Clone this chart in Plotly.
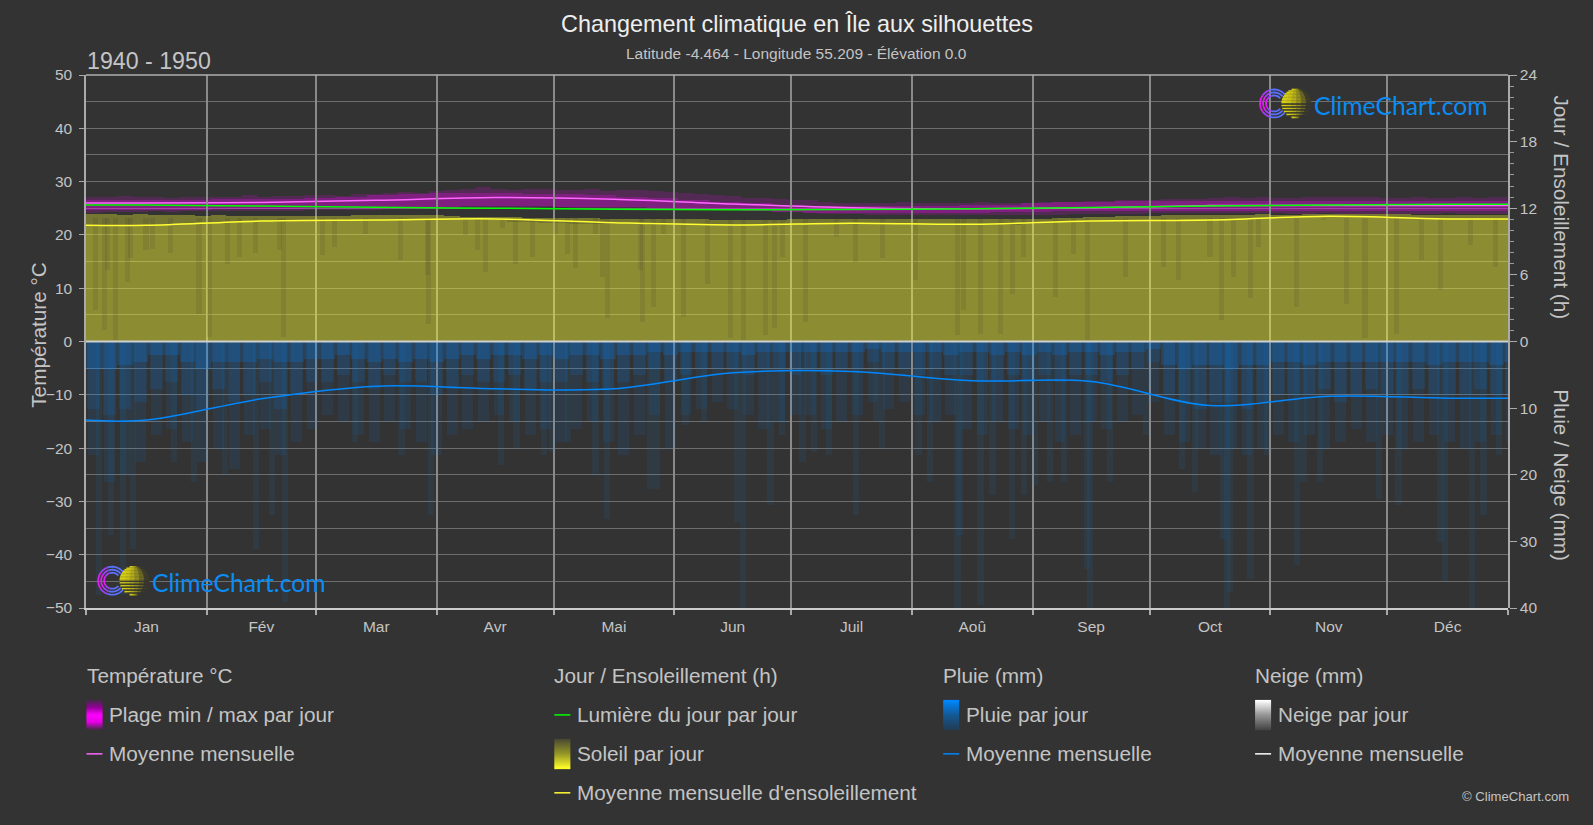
import math

import numpy as np
import plotly.graph_objects as go

################################################################################
# data
month_names = ['Jan', 'Fév', 'Mar', 'Avr', 'Mai', 'Jun', 'Juil', 'Aoû', 'Sep', 'Oct', 'Nov', 'Déc']
month_starts = [0, 31, 59, 90, 120, 151, 181, 212, 243, 273, 304, 334, 365]
month_mids = [15.5, 45, 74.5, 105, 135.5, 166, 196.5, 227.5, 258, 288.5, 319, 349.5]

# monthly means (lines)
temp_mean = [26.0, 26.1, 26.5, 27.0, 26.7, 25.8, 25.1, 24.9, 25.1, 25.5, 25.5, 25.5]
daylight_h = [12.29, 12.2, 12.1, 12.0, 11.92, 11.87, 11.88, 11.96, 12.07, 12.2, 12.3, 12.35]
sun_mean_h = [10.46, 10.85, 10.94, 11.04, 10.7, 10.5, 10.66, 10.56, 10.85, 10.94, 11.28, 11.04]
rain_mean_mm = [11.8, 8.6, 6.7, 7.1, 7.1, 4.7, 4.5, 5.9, 6.0, 9.6, 8.2, 8.5]

# 4 day bins
temp_max = [27.2, 27.1, 27.3, 27.1, 27.2, 27.0, 27.1, 27.2,
            27.1, 27.2, 27.4, 27.2, 27.3, 27.3, 27.4,
            27.5, 27.3, 27.6, 27.6, 27.9, 28.1, 27.9, 28.2,
            28.4, 28.6, 28.9, 28.6, 28.4, 28.7, 28.6,
            28.5, 28.4, 28.6, 28.3, 28.4, 28.4, 28.2, 28.1,
            27.8, 27.6, 27.5, 27.3, 27.0, 26.9, 26.8, 26.6,
            26.5, 26.2, 26.0, 26.0, 25.9, 26.0, 26.1, 26.0,
            26.0, 26.0, 26.0, 26.1, 26.0, 26.0, 26.0, 26.1,
            26.1, 26.2, 26.3, 26.4, 26.5, 26.5, 26.6,
            26.7, 26.8, 26.8, 27.0, 27.1, 27.0, 27.1, 27.0,
            27.0, 27.2, 27.1, 27.1, 27.2, 27.1, 27.0,
            27.0, 27.1, 27.0, 27.0, 27.1, 27.0, 27.1, 27.2]
temp_min = [24.2, 24.3, 24.3, 24.3, 24.4, 24.3, 24.4, 24.4,
            24.4, 24.4, 24.4, 24.5, 24.5, 24.5, 24.6,
            24.6, 24.7, 24.7, 24.7, 24.8, 24.8, 24.8, 24.9,
            24.9, 25.0, 25.0, 25.1, 25.1, 25.1, 25.2,
            25.2, 25.1, 25.1, 25.1, 25.0, 25.0, 24.9, 24.9,
            24.9, 24.8, 24.7, 24.6, 24.5, 24.4, 24.3, 24.3,
            24.1, 24.0, 23.9, 23.9, 23.8, 23.8, 23.8, 23.8,
            23.8, 23.7, 23.8, 23.8, 23.7, 23.8, 23.8, 23.8,
            23.8, 23.9, 23.9, 24.0, 24.0, 24.0, 24.1,
            24.1, 24.1, 24.2, 24.2, 24.2, 24.1, 24.1, 24.1,
            24.0, 24.0, 24.1, 24.0, 24.0, 24.0, 24.0,
            24.0, 24.0, 24.0, 24.1, 24.0, 24.0, 24.0, 24.0]
sun_max_h = [11.5, 11.5, 11.4, 11.5, 11.4, 11.4, 11.4, 11.3,
             11.4, 11.3, 11.3, 11.3, 11.3, 11.3, 11.3,
             11.3, 11.3, 11.4, 11.4, 11.4, 11.4, 11.4, 11.4,
             11.3, 11.2, 11.2, 11.2, 11.2, 11.1, 11.1,
             11.1, 11.1, 11.1, 11.0, 11.0, 11.0, 11.0, 11.0,
             11.0, 11.0, 10.9, 10.9, 10.9, 10.9, 10.9, 11.0,
             11.0, 11.0, 11.0, 11.0, 11.0, 11.0, 11.0, 11.0,
             11.0, 11.0, 11.0, 11.0, 11.0, 11.0, 11.0, 11.0,
             11.1, 11.1, 11.2, 11.2, 11.3, 11.3, 11.3,
             11.4, 11.4, 11.4, 11.4, 11.4, 11.4, 11.5, 11.4,
             11.4, 11.5, 11.5, 11.5, 11.5, 11.5, 11.5,
             11.5, 11.4, 11.4, 11.4, 11.4, 11.4, 11.4, 11.4]
sun_typ_h = [10.5, 10.5, 10.4, 10.5, 10.5, 10.6, 10.7, 10.8,
             10.8, 10.8, 10.9, 10.9, 10.8, 10.9, 10.9,
             10.9, 10.9, 11.0, 10.9, 10.9, 11.0, 11.0, 11.0,
             11.0, 11.0, 11.0, 10.9, 10.8, 10.8, 10.7,
             10.7, 10.6, 10.6, 10.6, 10.6, 10.6, 10.5, 10.5,
             10.5, 10.5, 10.5, 10.5, 10.5, 10.5, 10.5, 10.6,
             10.6, 10.6, 10.6, 10.6, 10.6, 10.6, 10.6, 10.6,
             10.6, 10.5, 10.5, 10.5, 10.5, 10.5, 10.6, 10.7,
             10.8, 10.8, 10.8, 10.9, 10.9, 10.9, 10.9,
             10.9, 11.0, 11.0, 11.0, 11.0, 11.0, 11.1, 11.1,
             11.2, 11.2, 11.3, 11.3, 11.3, 11.2, 11.1,
             11.1, 11.0, 11.0, 11.0, 11.0, 11.0, 11.0, 11.0]
rain_low_mm = [17, 21, 20, 18, 14, 13, 15, 18,
               16, 19, 14, 13, 17, 15, 13,
               11, 12, 14, 15, 12, 13, 15, 17,
               14, 13, 12, 11, 12, 14, 13,
               15, 13, 12, 15, 17, 14, 11, 16,
               11, 10, 9, 10, 11, 13, 12, 11,
               11, 13, 12, 11, 9, 10, 9, 11,
               12, 11, 13, 14, 12, 13, 14, 12,
               15, 14, 12, 13, 12, 11, 9,
               14, 15, 16, 17, 16, 17, 16, 14,
               15, 14, 16, 15, 13, 15, 14,
               16, 15, 14, 15, 16, 15, 14, 15]
rain_mid_mm = [10, 11, 10, 9, 7, 6, 8, 10,
               7, 9, 8, 6, 10, 8, 6,
               6, 5, 6, 7, 5, 6, 6, 8,
               7, 5, 6, 6, 5, 7, 6,
               6, 5, 6, 7, 6, 5, 4, 6,
               5, 4, 4, 4, 5, 4, 4, 5,
               4, 5, 4, 4, 3, 4, 4, 5,
               4, 5, 5, 6, 6, 5, 6, 5,
               6, 5, 5, 6, 5, 4, 3,
               8, 9, 10, 9, 9, 10, 9, 8,
               8, 8, 7, 9, 8, 7, 8,
               8, 7, 8, 8, 8, 7, 8, 8]
rain_top_mm = [4, 4, 3.5, 3, 2, 2, 3, 4,
               3, 3, 3, 2.5, 3, 3, 2.5,
               2.5, 2, 2.5, 3, 2.5, 3, 2.5, 3,
               2.5, 2, 2.5, 2, 2, 2.5, 2,
               2.5, 2, 2, 2.5, 2, 2, 1.5, 2,
               1.5, 1.5, 1.5, 1.5, 2, 1.5, 1.5, 1.5,
               1.5, 1.5, 1.5, 1.5, 1, 1.5, 1.5, 1.5,
               1.5, 2, 1.5, 1.5, 2, 1.5, 2, 1.5,
               2, 1.5, 1.5, 2, 1.5, 1.5, 1,
               3.5, 4, 3.5, 3.5, 4, 3.5, 3.5, 3,
               3, 3.5, 3, 3, 3, 3, 3,
               3, 3, 3.5, 3, 3, 3, 3.5, 3]

# 8 day bins, brighter core of the temperature band
temp_core_high = [26.6, 26.6, 26.6, 26.6, 26.7, 26.8, 26.8, 27.0, 27.2, 27.4, 27.6,
                  27.8, 27.8, 27.8, 27.7, 27.6, 27.5, 27.2, 26.9, 26.5, 26.2, 25.9, 25.6,
                  25.5, 25.4, 25.4, 25.4, 25.5, 25.6, 25.7, 25.9, 26.1, 26.2, 26.3,
                  26.4, 26.4, 26.4, 26.4, 26.3, 26.3, 26.3, 26.3, 26.3, 26.3, 26.3, 26.3]
temp_core_low = [24.6, 24.6, 24.7, 24.7, 24.8, 24.8, 24.9, 25.0, 25.0, 25.1, 25.2,
                 25.3, 25.4, 25.4, 25.4, 25.3, 25.3, 25.2, 25.0, 24.8, 24.6, 24.4, 24.3,
                 24.2, 24.2, 24.1, 24.1, 24.2, 24.2, 24.3, 24.3, 24.4, 24.5, 24.5,
                 24.5, 24.4, 24.4, 24.4, 24.4, 24.4, 24.4, 24.4, 24.4, 24.4, 24.4, 24.4]

# single wet days that reach far down
rain_peak_day = [3.4, 6.4, 9.4, 12, 22.6, 27.7, 35.7, 43.6, 47.8, 51, 69, 81, 88.5,
                 106.6, 110.5, 117.5, 119.7, 123.7, 130.8, 133.8, 144.9, 146.6, 153.9,
                 158.6, 167, 168.7, 175.7, 178.7, 183.9, 186.8, 190.7, 197.7, 202.7,
                 204.3, 213.7, 216.7, 223.7, 224.4, 229.6, 232.7, 237.7, 240.7, 243.5,
                 247.5, 251, 257, 257.8, 262.8, 272, 281.3, 284.7, 292, 292.9, 293.7,
                 298.9, 303.1, 310.8, 312.5, 316.8, 331.8, 336.9, 347.6, 348.9, 355.7,
                 358.7, 362.6]
rain_peak_mm = [38, 29, 38, 31, 18, 21, 20, 31, 26, 39, 15, 17, 26,
                18.5, 16, 17, 16.5, 15, 20, 26.5, 22, 22, 12.5,
                12, 27, 40, 24.5, 14, 18, 16.5, 17, 26, 12,
                16, 17, 21, 40, 29, 39.5, 23, 29.5, 23, 21.5,
                21, 21, 34, 40, 21, 14, 19, 22.5, 29.5, 40, 37.5,
                35.5, 17, 33.5, 21, 21, 23.5, 24.5, 30, 36, 40,
                26, 17]

# cloudy days, sun only reached this many hours
sun_dip_day = [2.5, 4.7, 5.5, 7.5, 10.6, 11.5, 15.4, 17, 21.8, 29, 31.6, 36.3, 39.5, 43.6,
               49.6, 50.8, 60.7, 63.7, 71.8, 80.8, 87.6, 88, 97.5,
               100.6, 102.5, 106.8, 110.2, 114.5, 120.5, 123.7, 125.6, 130.8, 132.5,
               133.8, 142.3, 142.8, 145.7, 148.3, 153.4, 159.6, 165.4, 168.8, 174.4,
               176.7, 178.7, 184.7, 192.6, 197.5, 204.4, 212.9, 223.6, 225.3, 229.6,
               234.7, 237.7, 240.7, 248.8, 253.5, 257, 266.8, 276.6, 280.5,
               288.5, 291.5, 294.5, 298.8, 301, 310.6, 317.6, 323.6, 328.3, 336.4,
               342.8, 347.6, 355.3, 361.7]
sun_dip_h = [2.8, 1, 6.4, 0.1, 5.4, 7.5, 8.2, 8.3, 8, 2.5, 0.4, 7, 7.6, 8,
             8.2, 0.4, 7.8, 8.5, 9.7, 7.3, 6, 1.6, 9.6,
             8.2, 6.3, 10.2, 7, 7.6, 9.7, 7.9, 6.6, 9.7, 5.8,
             2.1, 6.4, 1.8, 3.1, 9.7, 2.2, 5.2, 0.3, 0.1, 0.6,
             1.2, 7.6, 1.8, 9.4, 7.2, 7.5, 5.5, 0.6, 2.8, 0.7,
             0.7, 4.3, 7.6, 4, 7.9, 0.1, 5.8, 6.7, 5.5,
             7.6, 1.9, 5.8, 3.9, 8.5, 3.1, 10.9, 3.4, 0.3, 0.7,
             7.3, 4.6, 8.7, 6.7]

################################################################################
# pixel layout
W, H = 1593, 825
L, R, T, B = 85.5, 1508, 74.5, 608
BG = '#333333'
TEXT = '#c4c4c4'
FONT = 'Liberation Sans'


def px(x):
    return (x - L) / (R - L)


def py(y):
    return 1 - (y - T) / (B - T)


shapes = []
annotations = []


def label(x, y, text, size=20.75, color=TEXT, anchor='left', angle=0, family=FONT):
    annotations.append(dict(x=px(x), y=py(y), xref='paper', yref='paper', text=text,
                            showarrow=False, xanchor=anchor, yanchor='middle',
                            textangle=angle, font=dict(size=size, color=color, family=family)))


def rect(x0, y0, x1, y1, color):
    shapes.append(dict(type='rect', xref='paper', yref='paper', x0=px(x0), x1=px(x1),
                       y0=py(y0), y1=py(y1), fillcolor=color, line_width=0, layer='above'))


def hline(x0, x1, y, color, width=1.5):
    shapes.append(dict(type='line', xref='paper', yref='paper', x0=px(x0), x1=px(x1),
                       y0=py(y), y1=py(y), line=dict(color=color, width=width), layer='above'))


def mix(c0, c1, t):
    c = [round(a + (b - a) * t) for a, b in zip(c0, c1)]
    return 'rgb(%d,%d,%d)' % tuple(c)


def swatch(x, y0, y1, stops):
    # stack of thin rects, shapes have no gradient fill
    n = int(y1 - y0)
    for i in range(n):
        t = i / (n - 1) * (len(stops) - 1)
        k = min(int(t), len(stops) - 2)
        rect(x, y0 + i, x + 16, y0 + i + 1.3, mix(stops[k], stops[k + 1], t - k))


def arc(cx, cy, r, a0, a1, color):
    pts = []
    for a in np.linspace(a0, a1, 16):
        pts.append((px(cx + r * math.cos(a)), py(cy + r * math.sin(a))))
    path = 'M ' + ' L '.join('%.5f,%.5f' % p for p in pts)
    shapes.append(dict(type='path', xref='paper', yref='paper', path=path,
                       line=dict(color=color, width=1.8), layer='above'))


def logo(cx, cy):
    # rings
    for r in (14, 11, 8):
        arc(cx, cy, r, math.radians(40), math.radians(110), '#5a70ff')
        arc(cx, cy, r, math.radians(110), math.radians(145), '#a040f8')
        arc(cx, cy, r, math.radians(145), math.radians(215), '#e020f0')
        arc(cx, cy, r, math.radians(215), math.radians(250), '#a040f8')
        arc(cx, cy, r, math.radians(250), math.radians(320), '#5a70ff')
    # sun, made of stripes that fade to the right
    sx = cx + 22
    r = 14.7
    dark = (62, 60, 42)
    yellow = (214, 206, 20)
    for i in range(20):
        dy = -r + (i + 0.5) * 1.47
        half = math.sqrt(max(r * r - dy * dy, 0))
        faded = i > 9 and i % 2 == 0
        for k in range(6):
            a = sx - half + 2 * half * k / 6
            b = sx - half + 2 * half * (k + 1) / 6
            c = mix(yellow, dark, (k / 5) ** 1.6)
            if faded:
                c = mix((70, 68, 40), (51, 51, 51), k / 5)
            rect(a, cy + dy - 0.8, b + 0.6, cy + dy + 0.8, c)
    label(cx + 38, cy + 2, 'ClimeChart.com', size=24.7, color='#0a8cf5', family='Lato')


################################################################################
# traces
bin4 = [d + 2 for d in range(0, 368, 4)]
bin8 = [d + 4 for d in range(0, 368, 8)]
line_x = [0] + month_mids + [365]


def pad(vals):
    return [vals[0]] + vals + [vals[-1]]


fig = go.Figure()


def bars(x, y, color, width, yaxis, base=None):
    fig.add_trace(go.Bar(x=x, y=y, base=base, width=width, yaxis=yaxis,
                         marker=dict(color=color, line_width=0), hoverinfo='skip'))


def mean_line(y, color, yaxis, width=1.5):
    fig.add_trace(go.Scatter(x=line_x, y=pad(y), mode='lines', yaxis=yaxis,
                             line=dict(color=color, width=width, shape='spline', smoothing=1),
                             hoverinfo='skip'))


# temperature band
bars(bin4, [a - b for a, b in zip(temp_max, temp_min)], 'rgba(255,0,255,0.16)', 4, 'y', base=temp_min)
bars(bin8, [a - b for a, b in zip(temp_core_high, temp_core_low)], 'rgba(255,0,255,0.26)', 8, 'y', base=temp_core_low)
mean_line(temp_mean, '#ff66ff', 'y')

# sun
bars(bin4, sun_max_h, 'rgba(255,255,51,0.33)', 4, 'y2')
bars(bin4, sun_typ_h, 'rgba(255,255,51,0.16)', 4, 'y2')
bars(sun_dip_day, [11.1 - h for h in sun_dip_h], 'rgba(51,51,51,0.12)', 1.3, 'y2', base=sun_dip_h)
mean_line(daylight_h, '#00ff00', 'y2')
mean_line(sun_mean_h, '#ffff33', 'y2')

# rain
bars(bin4, rain_low_mm, 'rgba(0,136,255,0.09)', 2.8, 'y3')
bars(bin4, rain_mid_mm, 'rgba(0,136,255,0.12)', 3.3, 'y3')
bars(bin4, rain_top_mm, 'rgba(0,136,255,0.2)', 4, 'y3')
bars(rain_peak_day, rain_peak_mm, 'rgba(0,136,255,0.08)', 1.6, 'y3')
mean_line(rain_mean_mm, '#0088ff', 'y3')

################################################################################
# text and legend
label(W / 2, 23, 'Changement climatique en Île aux silhouettes', size=23.4, color='#eeeeee', anchor='center')
label(W / 2, 53, 'Latitude -4.464 - Longitude 55.209 - Élévation 0.0', size=15.5, anchor='center')
label(84, 60, '1940 - 1950', size=23.2)
label(38, 335, 'Température °C', anchor='center', angle=-90)
label(1562, 207, 'Jour / Ensoleillement (h)', anchor='center', angle=90)
label(1562, 475, 'Pluie / Neige (mm)', anchor='center', angle=90)
label(1571, 797, '© ClimeChart.com', size=13.1, anchor='right')

ROW = [676, 715, 754, 793]
COLS = [86, 554, 943, 1255]
label(COLS[0] - 2, ROW[0], 'Température °C')
label(COLS[1] - 2, ROW[0], 'Jour / Ensoleillement (h)')
label(COLS[2] - 2, ROW[0], 'Pluie (mm)')
label(COLS[3] - 2, ROW[0], 'Neige (mm)')

label(COLS[0] + 21, ROW[1], 'Plage min / max par jour')
label(COLS[0] + 21, ROW[2], 'Moyenne mensuelle')
label(COLS[1] + 21, ROW[1], 'Lumière du jour par jour')
label(COLS[1] + 21, ROW[2], 'Soleil par jour')
label(COLS[1] + 21, ROW[3], "Moyenne mensuelle d'ensoleillement")
label(COLS[2] + 21, ROW[1], 'Pluie par jour')
label(COLS[2] + 21, ROW[2], 'Moyenne mensuelle')
label(COLS[3] + 21, ROW[1], 'Neige par jour')
label(COLS[3] + 21, ROW[2], 'Moyenne mensuelle')

swatch(COLS[0], 700, 730, [(70, 40, 75), (150, 0, 155), (255, 0, 255), (230, 0, 230), (70, 40, 75)])
swatch(COLS[1], 739, 769, [(75, 75, 50), (150, 150, 40), (255, 255, 40)])
swatch(COLS[2], 700, 730, [(0, 136, 255), (20, 90, 150), (35, 60, 85)])
swatch(COLS[3], 700, 730, [(255, 255, 255), (150, 150, 150), (70, 70, 70)])
hline(COLS[0], COLS[0] + 16, ROW[2], '#ff66ff')
hline(COLS[1], COLS[1] + 16, ROW[1], '#00ff00')
hline(COLS[1], COLS[1] + 16, ROW[3], '#ffff33')
hline(COLS[2], COLS[2] + 16, ROW[2], '#0088ff')
hline(COLS[3], COLS[3] + 16, ROW[2], '#ffffff')

logo(1274, 103)
logo(111.7, 580.7)

# top edge of the frame and the bright zero line
hline(L, R, T, '#b0b0b0', 1.5)
hline(L, R, (T + B) / 2, '#cfcfcf', 2)

tick_font = dict(size=15.5, color=TEXT, family=FONT)
fig.update_layout(
    width=W, height=H, autosize=False, showlegend=False, barmode='overlay', bargap=0,
    margin=dict(l=L, r=W - R, t=T, b=H - B, pad=0),
    paper_bgcolor=BG, plot_bgcolor='rgba(0,0,0,0)',
    shapes=shapes, annotations=annotations,
    xaxis=dict(range=[0, 365], tickvals=month_mids, ticktext=month_names, ticks='',
               tickfont=tick_font, showgrid=False, zeroline=False, ticklabelstandoff=3,
               showline=True, linecolor='#cccccc', linewidth=2,
               minor=dict(tickvals=month_starts, showgrid=True, gridcolor='#8a8a8a', gridwidth=1.5,
                          ticks='outside', ticklen=5, tickcolor='#aaaaaa', tickwidth=1.5)),
    yaxis=dict(range=[-50, 50], tickvals=list(range(-50, 51, 10)), ticks='outside', ticklen=5,
               tickcolor='#aaaaaa', tickfont=tick_font, showgrid=True, gridcolor='#6e6e6e',
               zeroline=False, ticklabelstandoff=4,
               showline=True, linecolor='#aaaaaa', linewidth=1.5,
               minor=dict(dtick=5, tick0=0, showgrid=True, gridcolor='#6e6e6e', ticks='')),
    yaxis2=dict(domain=[0.5, 1], range=[0, 24], anchor='x', side='right',
                tickvals=[0, 6, 12, 18, 24], ticks='outside', ticklen=7, tickcolor='#aaaaaa',
                tickfont=tick_font, showgrid=False, zeroline=False,
                showline=True, linecolor='#aaaaaa', linewidth=1.5,
                minor=dict(dtick=1, tick0=0, ticks='outside', ticklen=4, tickcolor='#999999', showgrid=False)),
    yaxis3=dict(domain=[0, 0.5], range=[40, 0], anchor='x', side='right',
                tickvals=[10, 20, 30, 40], ticks='outside', ticklen=7, tickcolor='#aaaaaa',
                tickfont=tick_font, showgrid=False, zeroline=False,
                showline=True, linecolor='#aaaaaa', linewidth=1.5),
)

fig.write_html("out.html", config=dict(displayModeBar=False),
               post_script="document.body.style.margin='0';")
